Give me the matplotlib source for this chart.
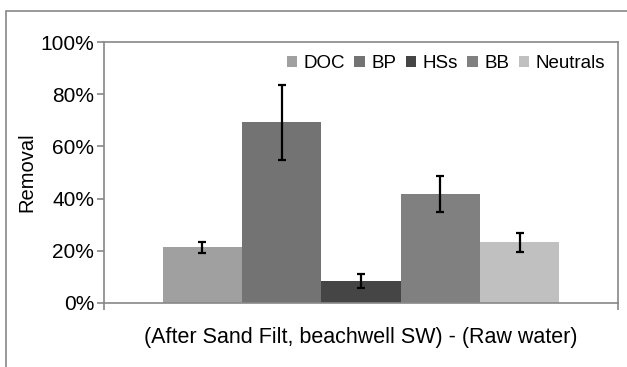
import numpy as np
import matplotlib.pyplot as plt
from matplotlib.patches import Rectangle

plt.rcParams['font.family'] = ['Liberation Sans', 'DejaVu Sans']

fractions = ['DOC', 'BP', 'HSs', 'BB', 'Neutrals']
removal = [21.3, 69.2, 8.4, 41.6, 23.3]
errors = [2.2, 14.4, 2.6, 6.9, 3.7]
colors = ['#a0a0a0', '#737373', '#454545', '#808080', '#c0c0c0']
group_label = '(After Sand Filt, beachwell SW) - (Raw water)'

fig = plt.figure(figsize=(6.27, 3.67), dpi=100)
# outer chart frame
fig.patches.append(Rectangle((6/627, -0.1), 1.0, 1 - 11/367 + 0.1, transform=fig.transFigure,
                             fill=False, edgecolor='#888888', linewidth=1.2))
ax = fig.add_axes([104/627, 1 - 303/367, (618 - 104)/627, (303 - 42)/367])

width = 0.1544
n = len(fractions)
x = (np.arange(n) - (n - 1) / 2) * width
for i in range(n):
    ax.bar(x[i], removal[i], width=width, color=colors[i], label=fractions[i],
           yerr=errors[i], error_kw=dict(ecolor='black', elinewidth=1.6, capsize=2.6, capthick=1.6))

ax.set_xlim(-0.5, 0.5)
ax.set_ylim(0, 100)
ax.set_yticks([0, 20, 40, 60, 80, 100])
ax.set_yticklabels(['0%', '20%', '40%', '60%', '80%', '100%'], fontsize=15)
ax.set_xticks([-0.5, 0.5])
ax.set_xticklabels([])
ax.tick_params(axis='y', length=5, width=1.2, color='#888888', pad=2)
ax.tick_params(axis='x', length=5, width=1.2, color='#888888')
for s in ax.spines.values():
    s.set_color('#888888')
    s.set_linewidth(1.2)
ax.set_ylabel('Removal', fontsize=14.5, labelpad=3)
ax.set_xlabel(group_label, fontsize=15.5, labelpad=9)

ax.legend(loc='upper right', ncol=5, frameon=False, fontsize=13.5, handlelength=0.55,
          handleheight=0.55, handletextpad=0.35, columnspacing=0.5, borderaxespad=0.3,
          bbox_to_anchor=(1.0, 1.0))

fig.savefig('out.png', dpi=100)
